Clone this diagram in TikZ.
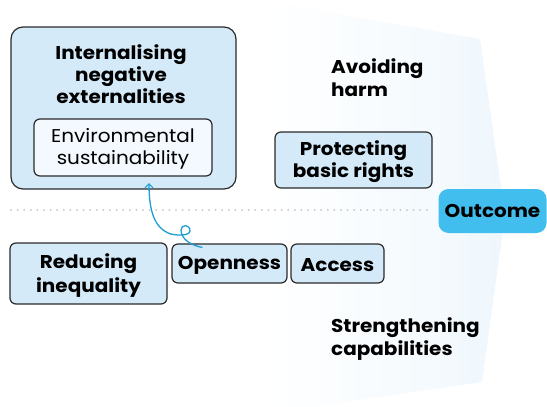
\documentclass[tikz,border=0pt]{standalone}
\usepackage{fontspec}
\setmainfont{Poppins}[FakeStretch=1.08]
\usetikzlibrary{arrows.meta,calc}
\definecolor{boxfill}{HTML}{D4EAF9}
\definecolor{innerfill}{HTML}{F3F9FE}
\definecolor{boxline}{HTML}{2B2B2B}
\definecolor{outfill}{HTML}{41BDEE}
\definecolor{arrowc}{HTML}{1E9ED3}
\definecolor{bgblue}{HTML}{DCEEFA}
\definecolor{dotc}{HTML}{C4C4C4}
\pgfdeclarehorizontalshading{bgshade}{100bp}{color(0bp)=(white); color(52bp)=(white); color(70bp)=(bgblue!35!white); color(85bp)=(bgblue!75!white); color(100bp)=(bgblue)}
\tikzset{
  lbox/.style={draw=boxline, line width=1.2pt, fill=boxfill, rounded corners=6pt, inner sep=0pt, align=center, font=\bfseries\fontsize{18.5}{22}\selectfont},
  bigbox/.style={draw=boxline, line width=1.2pt, fill=boxfill, rounded corners=12pt, inner sep=0pt},
  innerbox/.style={draw=boxline, line width=1.2pt, fill=innerfill, rounded corners=6pt, inner sep=0pt, align=center, font=\fontsize{18.5}{22}\selectfont},
  ttl/.style={align=center, inner sep=0pt, font=\bfseries\fontsize{18.5}{22}\selectfont},
  lbl/.style={align=left, inner sep=0pt, anchor=west, font=\bfseries\fontsize{18.5}{23.5}\selectfont},
  outbox/.style={fill=outfill, rounded corners=10pt, inner sep=0pt, font=\bfseries\fontsize{18.5}{22}\selectfont},
  flow/.style={draw=arrowc, line width=1.3pt, -{Straight Barb[length=4pt,width=8pt,line width=1.2pt]}},
  dotline/.style={draw=dotc, line width=2pt, line cap=round, dash pattern=on 0pt off 6.6pt}
}
\begin{document}
\begin{tikzpicture}[x=1pt,y=1pt]
\fill[white] (0,0) rectangle (547,-407);
\useasboundingbox (0,0) rectangle (547,-407);
% background
\begin{scope}
\clip (0,0) rectangle (547,-407);
\shade[shading=bgshade] (0,0) -- (257,0) -- (480,-39) -- (505,-215) -- (482,-382) -- (200,-423) -- (0,-423) -- cycle;
\end{scope}
% boxes
\node[bigbox, minimum width=225pt, minimum height=162pt] (ext) at (123.5,-108) {};
\node[ttl] (extT) at (121,-74) {Internalising\\negative\\externalities};
\node[innerbox, minimum width=178pt, minimum height=57pt] (env) at (123,-147.5) {};
\node[align=center, inner sep=0pt, font=\fontsize{18.5}{22}\selectfont] (envT) at (123,-149) {Environmental\\sustainability};
\node[lbl] (harm) at (331,-77.5) {Avoiding\\harm};
\node[lbox, minimum width=157pt, minimum height=56pt] (rights) at (353.5,-160) {};
\node[ttl] (rightsT) at (353.5,-162) {Protecting\\basic rights};
\node[outbox, minimum width=108pt, minimum height=44pt] (outc) at (492.5,-211) {Outcome};
\node[lbox, minimum width=157pt, minimum height=61pt] (reduce) at (88.5,-273.5) {};
\node[ttl, font=\bfseries\fontsize{18.5}{24.5}\selectfont] (reduceT) at (88.5,-275.5) {Reducing\\inequality};
\node[lbox, minimum width=115pt, minimum height=39pt] (open) at (229.5,-263.5) {};
\node[ttl] (openT) at (229.5,-265) {Openness};
\node[lbox, minimum width=93pt, minimum height=39pt] (access) at (337.5,-263.5) {};
\node[ttl] (accessT) at (337.5,-265) {Access};
\node[lbl] (strength) at (331,-339) {Strengthening\\capabilities};
% dotted line
\coordinate (dotL) at (11,-210);
\coordinate (dotR) at (432,-210);
\draw[dotline] (dotL) -- (dotR);
% arrow with loop
\coordinate (aS) at ($(open.north west)+(31,-4)$);
\coordinate (aE) at (149,-183);
\draw[flow] (aS) .. controls (193,-246) and (181,-240) .. (181,-230)
  .. controls (181,-224) and (190,-224) .. (190,-231)
  .. controls (190,-236) and (175,-236) .. (168,-233)
  .. controls (155,-227) and (149,-212) .. (aE);
\end{tikzpicture}
\end{document}
